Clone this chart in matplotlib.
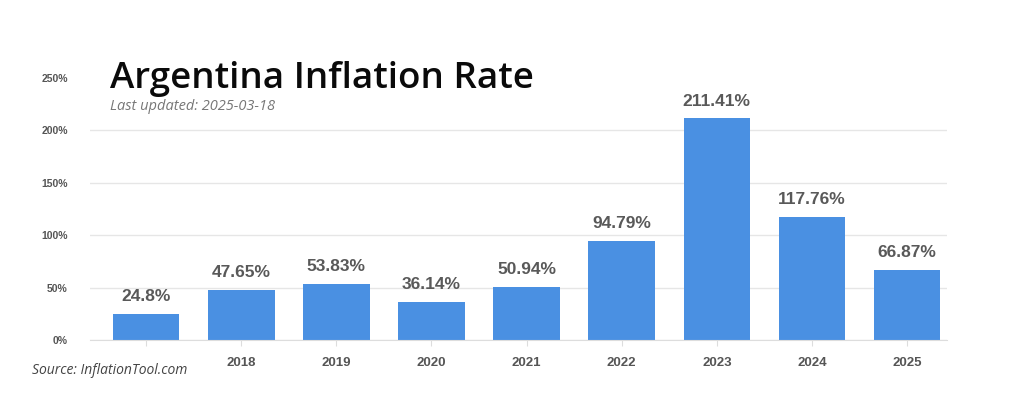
import matplotlib.pyplot as plt
import numpy as np

# Data
years = ["", "2018", "2019", "2020", "2021", "2022", "2023", "2024", "2025"]
rates = [24.8, 47.65, 53.83, 36.14, 50.94, 94.79, 211.41, 117.76, 66.87]
value_labels = ["24.8%", "47.65%", "53.83%", "36.14%", "50.94%",
                "94.79%", "211.41%", "117.76%", "66.87%"]
yticks = [0, 50, 100, 150, 200, 250]

bar_color = "#4a90e2"
label_color = "#595959"

fig = plt.figure(figsize=(10.22, 3.97), dpi=100)
# axes: x 90..947 px, y 0% at 340 px, 250% at 78 px
ax = fig.add_axes([90 / 1022, (397 - 340) / 397, (947 - 90) / 1022, (340 - 78) / 397])

x = np.arange(len(rates))
ax.bar(x, rates, width=0.7, color=bar_color, zorder=2)

for xi, v, lab in zip(x, rates, value_labels):
    ax.annotate(lab, (xi, v), xytext=(0, 7), textcoords="offset points",
                ha="center", va="bottom", fontsize=12.5, fontweight="bold",
                color=label_color, family="Liberation Sans")

ax.set_xlim(-0.59, 8.42)
ax.set_ylim(0, 250)
ax.set_yticks(yticks)
ax.set_yticklabels([f"{t}%" for t in yticks], fontsize=7.5, color="#555555",
                   family="Liberation Sans", fontweight="bold")
ax.set_xticks(x)
ax.set_xticklabels(years, fontsize=9.5, color="#555555", family="Liberation Sans",
                   fontweight="bold")
ax.tick_params(axis="x", length=4, color="#dddddd", pad=8)
ax.tick_params(axis="y", length=0, pad=16)

ax.grid(axis="y", color="#e6e6e6", linewidth=1, zorder=0)
ax.get_ygridlines()[-1].set_visible(False)
for s in ["top", "right", "left"]:
    ax.spines[s].set_visible(False)
ax.spines["bottom"].set_color("#dddddd")

fig.text(110 / 1022, 1 - 88 / 397, "Argentina Inflation Rate", fontsize=26.5,
         family="Open Sans", fontweight="semibold", color="#0a0a0a",
         va="baseline", ha="left")
fig.text(110 / 1022, 1 - 110 / 397, "Last updated: 2025-03-18", fontsize=10.5,
         style="italic", family="Open Sans", color="#777777", va="baseline")
fig.text(32 / 1022, 1 - 374 / 397, "Source: InflationTool.com", fontsize=10,
         style="italic", family="Open Sans", color="#444444", va="baseline")

fig.savefig("out.png", dpi=100, facecolor="white")
